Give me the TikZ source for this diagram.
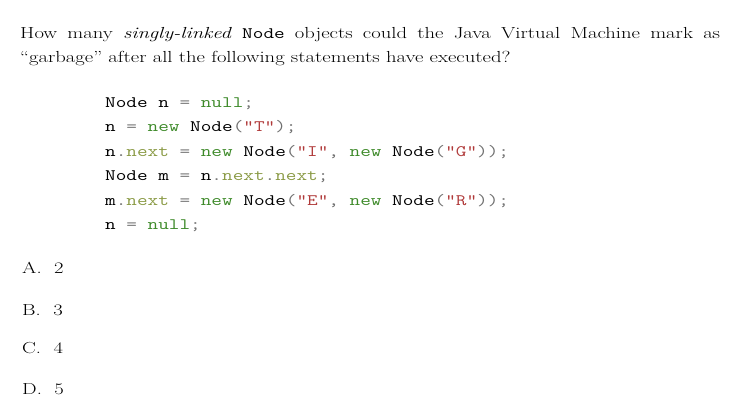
\documentclass[tikz,border=0pt]{standalone}
\usepackage{fontspec}
\usepackage{xcolor}
\usepackage{graphicx}
\definecolor{kw}{HTML}{3E8A2A}
\definecolor{fld}{HTML}{8A9A45}
\definecolor{str}{HTML}{B03A3A}
\definecolor{op}{HTML}{707070}
\newcommand{\kwd}[1]{\textcolor{kw}{#1}}
\newcommand{\fd}[1]{\textcolor{fld}{#1}}
\newcommand{\st}[1]{\textcolor{str}{#1}}
\newcommand{\po}[1]{\textcolor{op}{#1}}
\newcommand{\wide}[1]{\scalebox{1.29}[1]{#1}}
\begin{document}
\begin{tikzpicture}[x=1pt,y=1pt,
  txt/.style={anchor=base west,inner sep=0pt,font=\fontsize{16}{24}\selectfont},
  code/.style={anchor=base west,inner sep=0pt,font=\fontsize{16}{24}\selectfont\ttfamily}]
\useasboundingbox (0,0) rectangle (738,-408);
\node[txt] (q) at (20,-38) {\wide{\parbox[t]{542.6pt}{\fontsize{16}{24}\selectfont How many \textit{singly-linked} {\ttfamily Node} objects could the Java Virtual Machine mark as ``garbage'' after all the following statements have executed?}}};
\node[code] (c1) at (105,-107) {\wide{Node n \po{=} \kwd{null}\po{;}}};
\node[code] (c2) at (105,-131.5) {\wide{n \po{=} \kwd{new} Node\po{(}\st{"T"}\po{);}}};
\node[code] (c3) at (105,-156) {\wide{n\po{.}\fd{next} \po{=} \kwd{new} Node\po{(}\st{"I"}\po{,} \kwd{new} Node\po{(}\st{"G"}\po{));}}};
\node[code] (c4) at (105,-180.5) {\wide{Node m \po{=} n\po{.}\fd{next}\po{.}\fd{next}\po{;}}};
\node[code] (c5) at (105,-205) {\wide{m\po{.}\fd{next} \po{=} \kwd{new} Node\po{(}\st{"E"}\po{,} \kwd{new} Node\po{(}\st{"R"}\po{));}}};
\node[code] (c6) at (105,-229.5) {\wide{n \po{=} \kwd{null}\po{;}}};
\node[txt] (a) at (22,-273) {\wide{A.\ \ 2}};
\node[txt] (b) at (22,-315) {\wide{B.\ \ 3}};
\node[txt] (c) at (22,-353) {\wide{C.\ \ 4}};
\node[txt] (d) at (22,-394) {\wide{D.\ \ 5}};
\end{tikzpicture}
\end{document}
